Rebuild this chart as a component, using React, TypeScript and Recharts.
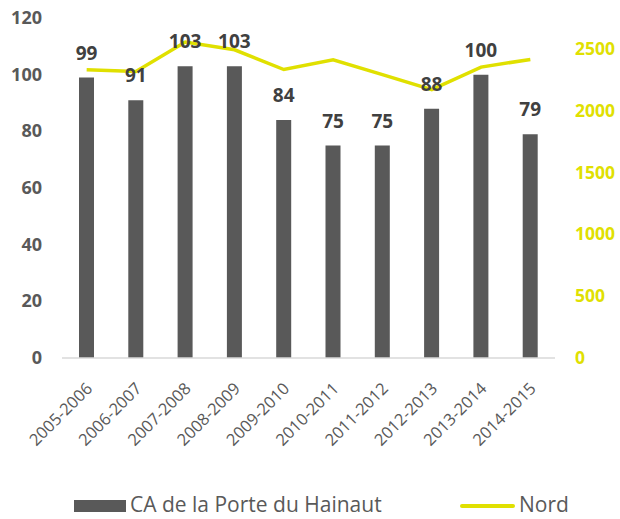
import { Bar, ComposedChart, LabelList, Legend, Line, XAxis, YAxis } from "recharts";

const seasons = ["2005-2006", "2006-2007", "2007-2008", "2008-2009", "2009-2010", "2010-2011", "2011-2012", "2012-2013", "2013-2014", "2014-2015"];
const porteHainaut = [99, 91, 103, 103, 84, 75, 75, 88, 100, 79];
const nord = [2331, 2317, 2556, 2493, 2333, 2412, 2292, 2171, 2353, 2415];
const leftTicks = [0, 20, 40, 60, 80, 100, 120];
const rightTicks = [0, 500, 1000, 1500, 2000, 2500];

const data = seasons.map((s, i) => ({ season: s, ca: porteHainaut[i], nord: nord[i] }));

const GREY = "#595959";
const YELLOW = "#E0E000";
const FONT = "'Open Sans', sans-serif";

const LeftTick = (p: any) => (
  <text x={p.x - 12} y={p.y} dy={6} textAnchor="end" fill={GREY} fontSize={18} fontWeight={700} fontFamily={FONT}>
    {p.payload.value}
  </text>
);

const RightTick = (p: any) => (
  <text x={p.x + 12} y={p.y} dy={6} textAnchor="start" fill={YELLOW} fontSize={17.5} fontWeight={700} fontFamily={FONT}>
    {p.payload.value}
  </text>
);

const XTick = (p: any) => (
  <g transform={`translate(${p.x + 1},${p.y + 18})`}>
    <text transform="rotate(-45)" textAnchor="end" dy={8} fill={GREY} fontSize={16.5} fontFamily={FONT}>
      {p.payload.value}
    </text>
  </g>
);

const LegendBox = () => (
  <div style={{ position: "relative", height: 30, fontFamily: FONT, fontSize: 21, color: GREY }}>
    <div style={{ position: "absolute", left: 74, top: 11, width: 52, height: 12, background: GREY }} />
    <span style={{ position: "absolute", left: 130, top: 1 }}>CA de la Porte du Hainaut</span>
    <div style={{ position: "absolute", left: 460, top: 15, width: 55, height: 4, background: YELLOW, borderRadius: 2 }} />
    <span style={{ position: "absolute", left: 519, top: 1 }}>Nord</span>
  </div>
);

export default function App() {
  return (
    <div style={{ position: "absolute", left: 0, top: 0, width: 620, height: 519, overflow: "hidden", background: "#fff" }}>
      <ComposedChart width={620} height={519} data={data} margin={{ top: 18, right: 0, left: 0, bottom: 0 }}>
        <XAxis
          dataKey="season"
          height={131}
          tick={<XTick />}
          tickLine={false}
          axisLine={{ stroke: "#D9D9D9", strokeWidth: 1.5 }}
          interval={0}
        />
        <YAxis yAxisId="left" width={62} domain={[0, 120]} ticks={leftTicks} tick={<LeftTick />} axisLine={false} tickLine={false} />
        <YAxis yAxisId="right" orientation="right" width={65} domain={[0, 2750]} ticks={rightTicks} tick={<RightTick />} axisLine={false} tickLine={false} />
        <Bar yAxisId="left" dataKey="ca" fill={GREY} barSize={15} isAnimationActive={false}>
          <LabelList dataKey="ca" position="top" offset={18} fill="#404040" fontSize={19} fontWeight={700} fontFamily={FONT} />
        </Bar>
        <Line yAxisId="right" dataKey="nord" type="linear" stroke={YELLOW} strokeWidth={3.5} dot={false} isAnimationActive={false} />
        <Legend verticalAlign="bottom" content={<LegendBox />} wrapperStyle={{ left: 0, width: 620, bottom: 0 }} />
      </ComposedChart>
    </div>
  );
}
